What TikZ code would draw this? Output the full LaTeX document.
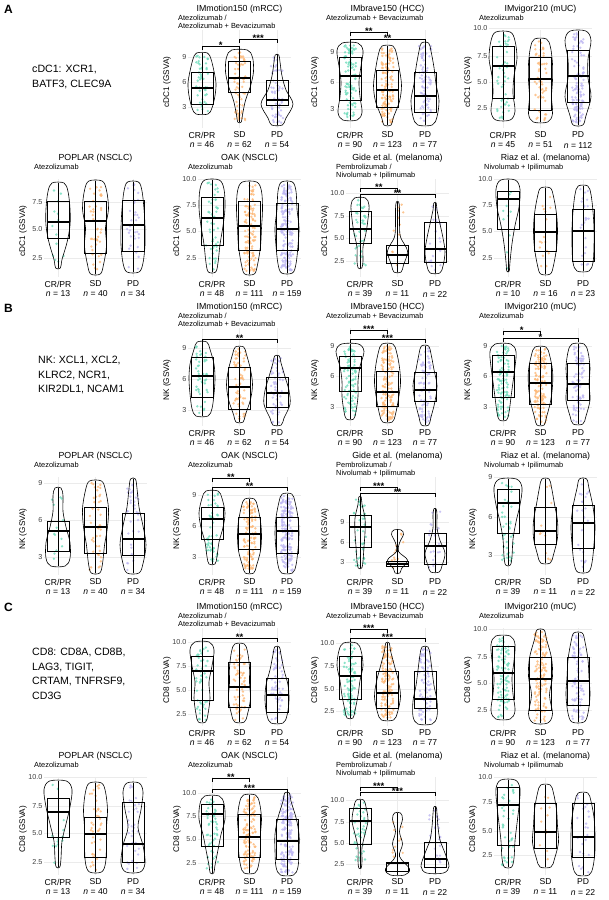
\documentclass[tikz,border=0pt]{standalone}
\usepackage{fontspec}
\setmainfont{Liberation Sans}
\definecolor{cA}{HTML}{6FDCBC}
\definecolor{cB}{HTML}{FDB877}
\definecolor{cC}{HTML}{BDB6F2}
\definecolor{gridc}{HTML}{EBEBEB}
\tikzset{
 grid/.style={gridc,line width=0.4pt},
 tick/.style={font=\fontsize{7.2}{8}\selectfont,text=black!75,inner sep=0.5pt},
 ttl/.style={font=\fontsize{8.8}{10}\selectfont,inner sep=0pt},
 subt/.style={font=\fontsize{7.4}{8}\selectfont,inner sep=0pt,align=left},
 ylab/.style={font=\fontsize{8.2}{9}\selectfont,inner sep=0pt},
 xl/.style={font=\fontsize{8.6}{9}\selectfont,inner sep=0pt},
 vio/.style={line width=0.6pt,line join=round},
 boxs/.style={line width=0.6pt},
 med/.style={line width=1.3pt},
 brk/.style={line width=0.5pt},
 star/.style={font=\fontsize{9.5}{9.5}\selectfont\bfseries,inner sep=0.3pt},
 desc/.style={font=\fontsize{10.6}{14.5}\selectfont,align=left,inner sep=0pt},
 lett/.style={font=\fontsize{12}{12}\selectfont\bfseries,inner sep=0pt}
}
\def\splitw#1/#2/#3/#4/#5\relax{\def\wA{#1}\def\wB{#2}\def\wC{#3}\def\wD{#4}\def\wE{#5}}
\newcommand\pan[9]{%
 \xdef\pox{#1}\xdef\poy{#2}%
 \foreach \tl/\ty in {#6}{\draw[grid] (#1-14,#2+\ty) -- (#1+89,#2+\ty);
   \node[tick,anchor=east] at (#1-15,#2+\ty) {\tl};}
 \foreach \i in {0,1,2}{\draw[grid] (#1+37.5*\i,#2+30) -- (#1+37.5*\i,#2+128);}
 \node[ttl] at (#1+37.5,#2+9) {#3};
 \node[subt,anchor=north west] at (#1-24,#2+15) {#4};
 \node[ylab,rotate=90] at (#1-35,#2+82) {#5};
 \node[xl] at (#1,#2+135) {CR/PR};
 \node[xl] at (#1+37.5,#2+135) {SD};
 \node[xl] at (#1+75,#2+135) {PD};
 \node[xl] at (#1,#2+145) {\textit{n} = #7};
 \node[xl] at (#1+37.5,#2+145) {\textit{n} = #8};
 \node[xl] at (#1+75,#2+145) {\textit{n} = #9};
}
\newcommand\vio[8]{%
 \pgfmathsetmacro\cx{\pox+37.5*#1}%
 \pgfmathsetmacro\T{\poy+#3}\pgfmathsetmacro\B{\poy+#4}\pgfmathsetmacro\H{#4-#3}%
 \splitw#5\relax
 \ifcase#1 \def\vcol{cA}\or\def\vcol{cB}\or\def\vcol{cC}\fi
 \foreach \k in {1,...,#2}{%
   \pgfmathsetmacro\dy{\T+2+rnd*(\H-4)}%
   \pgfmathsetmacro\dx{\cx+(rnd-0.5)*12}%
   \fill[\vcol,opacity=.8] (\dx,\dy) circle (1.3);}
 \draw[line width=0.5pt] (\cx,\T) -- (\cx,\B);
 \draw[vio] plot[smooth cycle,tension=0.55] coordinates {
   ({\cx+0.6*\wA},\T) ({\cx+\wA},{\T+0.1*\H}) ({\cx+\wB},{\T+0.3*\H}) ({\cx+\wC},{\T+0.5*\H})
   ({\cx+\wD},{\T+0.7*\H}) ({\cx+\wE},{\T+0.9*\H}) ({\cx+0.6*\wE},\B)
   ({\cx-0.6*\wE},\B) ({\cx-\wE},{\T+0.9*\H}) ({\cx-\wD},{\T+0.7*\H}) ({\cx-\wC},{\T+0.5*\H})
   ({\cx-\wB},{\T+0.3*\H}) ({\cx-\wA},{\T+0.1*\H}) ({\cx-0.6*\wA},\T)};
 \draw[boxs] (\cx-11,\poy+#6) rectangle (\cx+11,\poy+#8);
 \draw[med] (\cx-11,\poy+#7) -- (\cx+11,\poy+#7);
}
\newcommand\brk[4]{%
 \draw[brk] (\pox+37.5*#1,\poy+#3+4) -- (\pox+37.5*#1,\poy+#3) -- (\pox+37.5*#2,\poy+#3) -- (\pox+37.5*#2,\poy+#3+4);
 \node[star,anchor=south] at (\pox+18.75*#1+18.75*#2,\poy+#3+3) {#4};}
\def\subM{Atezolizumab /\\Atezolizumab + Bevacizumab}
\def\subB{Atezolizumab + Bevacizumab}
\def\subA{Atezolizumab}
\def\subG{Pembrolizumab /\\Nivolumab + Ipilimumab}
\def\subR{Nivolumab + Ipilimumab}
\begin{document}
\begin{tikzpicture}[x=1pt,y=-1pt]
\useasboundingbox (0,0) rectangle (609,900);
\fill[white] (0,0) rectangle (609,900);
\pgfmathsetseed{42}
\node[lett,anchor=west] at (4,9) {A};
\node[lett,anchor=west] at (4,308) {B};
\node[lett,anchor=west] at (4,607) {C};
\node[desc,anchor=west] at (32,77) {cDC1: XCR1,\\BATF3, CLEC9A};
\node[desc,anchor=west] at (38,375) {NK: XCL1, XCL2,\\KLRC2, NCR1,\\KIR2DL1, NCAM1};
\node[desc,anchor=west] at (32,674) {CD8: CD8A, CD8B,\\LAG3, TIGIT,\\CRTAM, TNFRSF9,\\CD3G};
\pan{202}{0}{IMmotion150 (mRCC)}{\subM}{cDC1 (GSVA)}{9/57,6/82,3/107}{46}{62}{54}
\vio{0}{46}{53}{114}{9/12/14/13/10}{72}{88}{104}
\vio{1}{62}{50}{122}{13/14/11/6/3}{61}{78}{92}
\vio{2}{54}{55}{125}{3/5/9/16/9}{80}{100}{105}
\brk{0}{1}{46}{*}\brk{1}{2}{39}{***}
\pan{350}{0}{IMbrave150 (HCC)}{\subB}{cDC1 (GSVA)}{9/52,6/82,3/109}{90}{123}{77}
\vio{0}{90}{43}{120}{13/11/9/10/12}{57}{76}{100}
\vio{1}{123}{46}{125}{9/12/14/12/6}{70}{90}{107}
\vio{2}{77}{43}{125}{6/9/11/14/12}{72}{96}{112}
\brk{0}{1}{32}{**}\brk{0}{2}{39}{**}
\pan{503}{0}{IMvigor210 (mUC)}{\subA}{cDC1 (GSVA)}{10.0/28,7.5/56,5.0/82,2.5/108}{45}{51}{112}
\vio{0}{45}{32}{120}{12/14/11/10/12}{46}{66}{98}
\vio{1}{51}{39}{122}{10/12/12/11/12}{57}{79}{110}
\vio{2}{112}{31}{125}{13/10/10/13/8}{50}{76}{102}
\pan{58}{149}{POPLAR (NSCLC)}{\subA}{cDC1 (GSVA)}{7.5/53,5.0/80,2.5/109}{13}{40}{34}
\vio{0}{13}{34}{119}{10/12/12/9/4}{52}{73}{89}
\vio{1}{40}{32}{125}{11/13/10/11/8}{52}{72}{104}
\vio{2}{34}{33}{123}{9/11/12/12/10}{51}{76}{102}
\pan{212}{149}{OAK (NSCLC)}{\subA}{cDC1 (GSVA)}{10.0/30,7.5/56,5.0/82,2.5/109}{48}{111}{159}
\vio{0}{48}{31}{123}{12/13/11/8/6}{48}{69}{96}
\vio{1}{111}{33}{125}{12/13/12/11/8}{52}{77}{101}
\vio{2}{159}{33}{124}{9/10/12/11/9}{54}{80}{101}
\pan{360}{149}{Gide et al. (melanoma)}{\subG}{cDC1 (GSVA)}{10.0/44,7.5/67,5.0/89,2.5/112}{39}{11}{22}
\vio{0}{39}{49}{119}{9/8/6/3/3}{62}{80}{94}
\vio{1}{11}{53}{123}{2/2/3/10/6}{96}{106}{114}
\vio{2}{22}{54}{124}{2/5/8/10/8}{73}{100}{113}
\brk{0}{1}{39}{**}\brk{0}{2}{45}{**}
\pan{508}{149}{Riaz et al. (melanoma)}{\subR}{cDC1 (GSVA)}{10.0/30,7.5/56,5.0/82,2.5/109}{10}{16}{23}
\vio{0}{10}{31}{122}{12/11/7/4/2}{42}{50}{80}
\vio{1}{16}{39}{125}{8/11/12/11/8}{65}{83}{102}
\vio{2}{23}{37}{122}{8/10/11/11/10}{60}{82}{112}
\pan{202}{298}{IMmotion150 (mRCC)}{\subM}{NK (GSVA)}{9/50,6/81,3/112}{46}{62}{54}
\vio{0}{46}{44}{118}{8/12/13/12/10}{59}{78}{99}
\vio{1}{62}{49}{124}{7/11/13/11/6}{69}{89}{111}
\vio{2}{54}{58}{127}{4/8/12/13/7}{79}{95}{109}
\brk{0}{2}{41}{**}
\pan{350}{298}{IMbrave150 (HCC)}{\subB}{NK (GSVA)}{9/48,6/78,3/109}{90}{123}{77}
\vio{0}{90}{46}{121}{14/10/8/8/6}{58}{70}{93}
\vio{1}{123}{46}{124}{9/12/13/11/8}{73}{94}{108}
\vio{2}{77}{48}{127}{6/9/12/10/6}{74}{92}{103}
\brk{0}{1}{32}{***}\brk{0}{2}{41}{***}
\pan{503}{298}{IMvigor210 (mUC)}{\subA}{NK (GSVA)}{9/48,6/78,3/109}{90}{123}{77}
\vio{0}{90}{46}{122}{13/12/10/8/6}{57}{74}{99}
\vio{1}{123}{49}{127}{9/12/12/10/6}{65}{85}{106}
\vio{2}{77}{46}{126}{10/12/11/12/8}{65}{86}{102}
\brk{0}{1}{33}{*}\brk{0}{2}{40}{*}
\pan{58}{447}{POPLAR (NSCLC)}{\subA}{NK (GSVA)}{9/36,6/73,3/110}{13}{40}{34}
\vio{0}{13}{41}{119}{5/5/8/12/12}{74}{84}{104}
\vio{1}{40}{34}{126}{10/13/12/9/7}{60}{80}{106}
\vio{2}{34}{32}{126}{4/6/10/13/10}{66}{92}{108}
\pan{212}{447}{OAK (NSCLC)}{\subA}{NK (GSVA)}{9/48,6/79,3/110}{48}{111}{159}
\vio{0}{48}{44}{117}{10/13/11/7/5}{60}{72}{92}
\vio{1}{111}{52}{126}{8/11/12/11/7}{70}{87}{102}
\vio{2}{159}{47}{126}{8/11/12/11/9}{70}{84}{106}
\brk{0}{1}{31}{**}\brk{0}{2}{40}{**}
\pan{360}{447}{Gide et al. (melanoma)}{\subG}{NK (GSVA)}{9/75,6/95,3/115}{39}{11}{22}
\vio{0}{39}{50}{121}{2/5/5/4/3}{68}{80}{100}
\vio{1}{11}{83}{126}{6/2/1/10/4}{114}{117}{119}
\vio{2}{22}{62}{125}{2/2/5/10/7}{86}{99}{117}
\brk{0}{1}{40}{***}\brk{0}{2}{46}{**}
\pan{508}{447}{Riaz et al. (melanoma)}{\subR}{NK (GSVA)}{9/30,6/70,3/108}{39}{11}{22}
\vio{0}{39}{32}{118}{14/12/8/5/4}{42}{56}{86}
\vio{1}{11}{32}{116}{6/9/12/12/8}{60}{84}{97}
\vio{2}{22}{32}{125}{6/10/12/11/9}{58}{76}{101}
\pan{202}{598}{IMmotion150 (mRCC)}{\subM}{CD8 (GSVA)}{10.0/44,7.5/68,5.0/92,2.5/116}{46}{62}{54}
\vio{0}{46}{44}{124}{12/10/7/8/6}{58}{73}{102}
\vio{1}{62}{46}{124}{8/10/10/11/8}{64}{89}{109}
\vio{2}{54}{49}{125}{4/7/11/12/10}{80}{97}{114}
\brk{0}{2}{40}{**}
\pan{350}{598}{IMbrave150 (HCC)}{\subB}{CD8 (GSVA)}{10.0/45,7.5/68,5.0/91,2.5/113}{90}{123}{77}
\vio{0}{90}{45}{120}{11/13/10/8/5}{58}{78}{101}
\vio{1}{123}{45}{122}{3/7/11/13/10}{73}{95}{110}
\vio{2}{77}{49}{126}{5/7/9/12/12}{73}{101}{110}
\brk{0}{1}{31}{***}\brk{0}{2}{40}{***}
\pan{503}{598}{IMvigor210 (mUC)}{\subA}{CD8 (GSVA)}{10.0/31,7.5/59,5.0/85,2.5/112}{90}{123}{77}
\vio{0}{90}{38}{121}{12/11/9/10/12}{48}{75}{101}
\vio{1}{123}{32}{125}{6/11/12/9/12}{59}{81}{112}
\vio{2}{77}{35}{124}{7/10/11/12/10}{59}{83}{107}
\pan{58}{747}{POPLAR (NSCLC)}{\subA}{CD8 (GSVA)}{10.0/30,7.5/59,5.0/86,2.5/115}{13}{40}{34}
\vio{0}{13}{34}{120}{14/12/8/4/3}{51}{65}{90}
\vio{1}{40}{36}{125}{10/12/11/11/10}{70}{87}{110}
\vio{2}{34}{36}{125}{10/8/5/10/12}{55}{97}{115}
\pan{212}{747}{OAK (NSCLC)}{\subA}{CD8 (GSVA)}{10.0/46,7.5/69,5.0/92,2.5/116}{48}{111}{159}
\vio{0}{48}{49}{126}{12/13/9/6/3}{57}{67}{99}
\vio{1}{111}{48}{126}{10/12/11/11/9}{67}{90}{110}
\vio{2}{159}{46}{128}{4/9/12/12/11}{72}{94}{112}
\brk{0}{1}{31}{**}\brk{0}{2}{42}{***}
\pan{360}{747}{Gide et al. (melanoma)}{\subG}{CD8 (GSVA)}{10.0/53,7.5/75,5.0/96,2.5/117}{39}{11}{22}
\vio{0}{39}{53}{121}{6/8/5/2/2}{61}{74}{97}
\vio{1}{11}{66}{128}{5/2/5/2/12}{115}{116}{124}
\vio{2}{22}{60}{126}{2/3/5/10/14}{95}{112}{120}
\brk{0}{1}{40}{***}\brk{0}{2}{45}{***}
\pan{508}{747}{Riaz et al. (melanoma)}{\subR}{CD8 (GSVA)}{10.0/30,7.5/55,5.0/84,2.5/108}{39}{11}{22}
\vio{0}{39}{33}{120}{12/11/9/7/6}{40}{58}{98}
\vio{1}{11}{38}{120}{8/11/12/13/9}{56}{85}{101}
\vio{2}{22}{46}{128}{8/11/12/12/10}{56}{90}{110}
\end{tikzpicture}
\end{document}
